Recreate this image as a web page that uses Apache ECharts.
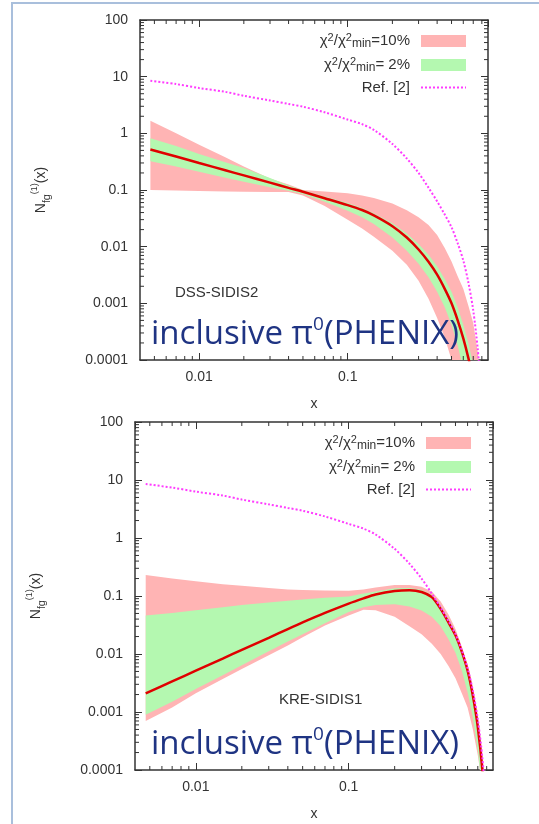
<!DOCTYPE html>
<html>
<head>
<meta charset="utf-8">
<title>gluon Sivers moments</title>
<script src="https://cdn.jsdelivr.net/npm/echarts@6/dist/echarts.min.js"></script>
<style>
  html, body { margin: 0; padding: 0; background: #fff; }
  #frame { position: absolute; left: 11px; top: 2px; width: 528px; height: 822px;
           border-left: 2px solid #a9bfdc; border-top: 2px solid #a9bfdc; }
  #chart { position: absolute; left: 0; top: 0; width: 539px; height: 824px; }
</style>
</head>
<body>
<div id="frame"></div>
<div id="chart"></div>
<script>
// x grid shared by every curve
var xs = [0.0047, 0.007, 0.01, 0.015, 0.02, 0.03, 0.04, 0.05, 0.07, 0.1, 0.125, 0.15, 0.2, 0.25, 0.3, 0.35, 0.4, 0.45, 0.5, 0.55, 0.6, 0.65, 0.7, 0.75, 0.8];

// Ref. [2] (same curve in both panels)
var refCurve = [8.5, 7.4, 6.3, 5.4, 4.6, 3.8, 3.3, 2.95, 2.35, 1.75, 1.45, 1.15, 0.65, 0.36, 0.2, 0.11, 0.063, 0.037, 0.022, 0.0115, 0.0057, 0.0023, 0.00075, 0.00016, 0.00002];

// top panel: DSS-SIDIS2
var dssCentral = [0.52, 0.39, 0.30, 0.223, 0.181, 0.135, 0.109, 0.093, 0.0716, 0.054, 0.0443, 0.0357, 0.023, 0.0145, 0.0089, 0.0054, 0.0032, 0.0018, 0.001, 0.0005, 0.00024, 0.000107, 0.000045, 0.000016, 0.000005];
var dss10Hi = [1.66, 1.0, 0.63, 0.38, 0.26, 0.16, 0.125, 0.1, 0.094, 0.088, 0.08, 0.072, 0.058, 0.044, 0.033, 0.024, 0.016, 0.0095, 0.0055, 0.003, 0.0018, 0.0009, 0.00045, 0.00014, 0.00003];
var dss10Lo = [0.1, 0.098, 0.096, 0.094, 0.093, 0.092, 0.092, 0.08, 0.052, 0.03, 0.021, 0.015, 0.0085, 0.0048, 0.0025, 0.0012, 0.00055, 0.00025, 0.0001, 0.00004, 0.00001, 0.000003, 0.000001, 0.0000003, 0.0000001];
var dss2Hi = [0.82, 0.6, 0.43, 0.31, 0.245, 0.163, 0.12, 0.099, 0.077, 0.059, 0.048, 0.039, 0.026, 0.017, 0.0112, 0.0072, 0.0045, 0.0027, 0.0016, 0.00085, 0.00042, 0.0002, 0.00008, 0.00003, 0.00001];
var dss2Lo = [0.32, 0.26, 0.21, 0.165, 0.14, 0.112, 0.097, 0.085, 0.062, 0.043, 0.033, 0.025, 0.0145, 0.0085, 0.005, 0.0029, 0.0016, 0.00085, 0.00042, 0.00018, 0.00007, 0.000025, 0.000008, 0.000002, 0.0000005];

// bottom panel: KRE-SIDIS1
var kreCentral = [0.0021, 0.00337, 0.00515, 0.00835, 0.0118, 0.019, 0.0269, 0.035, 0.051, 0.074, 0.091, 0.106, 0.1216, 0.126, 0.1175, 0.0955, 0.06, 0.035, 0.021, 0.011, 0.0052, 0.0019, 0.00055, 0.0001, 0.00001];
var kre10Hi = [0.23, 0.2, 0.18, 0.16, 0.15, 0.138, 0.13, 0.127, 0.124, 0.123, 0.13, 0.14, 0.155, 0.155, 0.145, 0.12, 0.08, 0.048, 0.027, 0.0135, 0.0065, 0.0027, 0.0009, 0.0002, 0.00003];
var kre10Lo = [0.0007, 0.0012, 0.0021, 0.0037, 0.0055, 0.0095, 0.014, 0.0195, 0.031, 0.046, 0.058, 0.057, 0.044, 0.03, 0.022, 0.015, 0.01, 0.0062, 0.0038, 0.0021, 0.0012, 0.0005, 0.00018, 0.00005, 0.00001];
var kre2Hi = [0.046, 0.051, 0.057, 0.064, 0.07, 0.077, 0.083, 0.087, 0.093, 0.098, 0.11, 0.12, 0.136, 0.138, 0.128, 0.104, 0.068, 0.041, 0.024, 0.0125, 0.006, 0.0024, 0.0008, 0.00017, 0.00002];
var kre2Lo = [0.0009, 0.0015, 0.0025, 0.0043, 0.0064, 0.0112, 0.0165, 0.022, 0.034, 0.053, 0.064, 0.07, 0.072, 0.066, 0.056, 0.044, 0.03, 0.018, 0.0105, 0.0052, 0.0022, 0.0008, 0.00022, 0.00004, 0.000005];

var X_MIN = 0.004, X_MAX = 0.88;
var Y_MIN = 0.0001, Y_MAX = 100;

// minor tick values (2..9 of each decade), gnuplot style
var xMinor = [], yMinor = [];
[0.001, 0.01, 0.1].forEach(function (d) {
  for (var k = 2; k <= 9; k++) { var v = +(k * d).toPrecision(2); if (v > X_MIN && v < X_MAX) xMinor.push(v); }
});
[0.0001, 0.001, 0.01, 0.1, 1, 10].forEach(function (d) {
  for (var k = 2; k <= 9; k++) yMinor.push(+(k * d).toPrecision(2));
});

var PINK = '#ffb4b4', GREEN = '#b4f8b0', RED = '#e00000', MAGENTA = '#ff3cff';
var FONT = 'Liberation Sans';
var AXIS_COLOR = '#333';

var legendText = {
  c10: '{t|χ}{sup|2}{t|/χ}{sup|2}{sub|min}{t|=10%}{g|}',
  c2: '{t|χ}{sup|2}{t|/χ}{sup|2}{sub|min}{t|= 2%}{g|}',
  ref: '{t|Ref. [2]}{g|}'
};

function fmtNum(v) {
  return String(Number(v.toPrecision(1)));
}

function xAxisPair(g) {
  var common = {
    type: 'log', logBase: 10, gridIndex: g, min: X_MIN, max: X_MAX,
    axisLine: { show: true, lineStyle: { color: AXIS_COLOR, width: 1.5 } },
    axisTick: { show: true, inside: true, length: 7, lineStyle: { color: AXIS_COLOR } },
    splitLine: { show: false }
  };
  return [
    Object.assign({}, common, {
      position: 'bottom',
      name: 'x', nameLocation: 'middle', nameGap: 37,
      nameTextStyle: { fontFamily: FONT, fontSize: 14, color: AXIS_COLOR },
      axisLabel: { show: true, margin: 10, fontFamily: FONT, fontSize: 14, color: AXIS_COLOR,
                   showMinLabel: false, showMaxLabel: false, formatter: fmtNum }
    }),
    Object.assign({}, common, { position: 'top', axisLabel: { show: false } })
  ];
}

function yAxisPair(g) {
  var common = {
    type: 'log', logBase: 10, gridIndex: g, min: Y_MIN, max: Y_MAX, splitNumber: 6,
    axisLine: { show: true, lineStyle: { color: AXIS_COLOR, width: 1.5 } },
    axisTick: { show: true, inside: true, length: 7, lineStyle: { color: AXIS_COLOR } },
    splitLine: { show: false }
  };
  return [
    Object.assign({}, common, {
      position: 'left',
      name: '{n|N}{sub|f}{sub2|g}{sup|(1)}{n|(x)}', nameLocation: 'middle', nameGap: 88, nameRotate: 90,
      nameTextStyle: {
        fontFamily: FONT, color: AXIS_COLOR,
        rich: {
          n: { fontFamily: FONT, fontSize: 14, color: AXIS_COLOR, lineHeight: 22 },
          sub: { fontFamily: FONT, fontSize: 10, color: AXIS_COLOR, verticalAlign: 'bottom', lineHeight: 10 },
          sub2: { fontFamily: FONT, fontSize: 11, color: AXIS_COLOR, verticalAlign: 'bottom', lineHeight: 6 },
          sup: { fontFamily: FONT, fontSize: 9, color: AXIS_COLOR, verticalAlign: 'top', lineHeight: 9 }
        }
      },
      axisLabel: { show: true, margin: 12, fontFamily: FONT, fontSize: 14, color: AXIS_COLOR, formatter: fmtNum }
    }),
    Object.assign({}, common, { position: 'right', axisLabel: { show: false } })
  ];
}

function band(name, color, xi, yi, lo, hi) {
  return {
    type: 'custom', name: name, xAxisIndex: xi, yAxisIndex: yi, clip: true,
    itemStyle: { color: color },
    encode: { x: 0, y: [1, 2] },
    data: xs.map(function (x, i) { return [x, lo[i], hi[i]]; }),
    renderItem: function (params, api) {
      if (params.dataIndex !== 0) return null;
      var up = [], dn = [];
      for (var i = 0; i < xs.length; i++) {
        up.push(api.coord([xs[i], hi[i]]));
        dn.push(api.coord([xs[i], lo[i]]));
      }
      return { type: 'polygon', shape: { points: up.concat(dn.reverse()) }, style: { fill: color } };
    }
  };
}

function curve(name, xi, yi, vals, style) {
  return {
    type: 'line', name: name, xAxisIndex: xi, yAxisIndex: yi, smooth: 0.3,
    showSymbol: false, symbol: 'none', clip: true,
    data: xs.map(function (x, i) { return [x, vals[i]]; }),
    lineStyle: style, itemStyle: { color: style.color }
  };
}

// minor ticks on all four sides, placed through the axes' own scales
function minorTicks(xi, yi) {
  function seg(x1, y1, x2, y2) {
    return { type: 'line', shape: { x1: x1, y1: y1, x2: x2, y2: y2 }, style: { stroke: AXIS_COLOR, lineWidth: 1 } };
  }
  return {
    type: 'custom', name: 'minor', xAxisIndex: xi, yAxisIndex: yi, silent: true, clip: false, z: 5,
    data: [[X_MIN, Y_MIN]],
    renderItem: function (params, api) {
      var lo = api.coord([X_MIN, Y_MIN]), hi = api.coord([X_MAX, Y_MAX]);
      var kids = [];
      xMinor.forEach(function (v) {
        var px = api.coord([v, Y_MIN])[0];
        kids.push(seg(px, lo[1], px, lo[1] - 4));
        kids.push(seg(px, hi[1], px, hi[1] + 4));
      });
      yMinor.forEach(function (v) {
        var py = api.coord([X_MIN, v])[1];
        kids.push(seg(lo[0], py, lo[0] + 4, py));
        kids.push(seg(hi[0], py, hi[0] - 4, py));
      });
      return { type: 'group', children: kids };
    }
  };
}

function legendFor(top, right) {
  return {
    orient: 'vertical', align: 'right', top: top, right: right,
    itemWidth: 45, itemHeight: 12, itemGap: 6,
    selectedMode: false,
    data: [{ name: 'c10', icon: 'rect' }, { name: 'c2', icon: 'rect' }, { name: 'ref', itemStyle: { opacity: 0 } }],
    formatter: function (n) { return legendText[n]; },
    textStyle: {
      fontFamily: FONT, fontSize: 15, color: AXIS_COLOR,
      rich: {
        t: { fontFamily: FONT, fontSize: 15, color: AXIS_COLOR, lineHeight: 18 },
        sup: { fontFamily: FONT, fontSize: 11, color: AXIS_COLOR, verticalAlign: 'top', lineHeight: 10 },
        sub: { fontFamily: FONT, fontSize: 12, color: AXIS_COLOR, verticalAlign: 'bottom', lineHeight: 11 },
        g: { width: 6 }
      }
    }
  };
}

function phenixText(left, top) {
  return {
    type: 'text', left: left, top: top, z: 10,
    style: {
      text: '{m|inclusive π}{s|0}{m|(PHENIX)}',
      rich: {
        m: { fontFamily: 'Open Sans', fontSize: 33, fill: '#1f3483', lineHeight: 39 },
        s: { fontFamily: 'Open Sans', fontSize: 19, fill: '#1f3483', verticalAlign: 'top', lineHeight: 25 }
      }
    }
  };
}

var myChart = echarts.init(document.getElementById('chart'));

var option = {
  animation: false,
  grid: [
    { left: 140, right: 51, top: 20, height: 340 },
    { left: 135, right: 46, top: 422, height: 348 }
  ],
  xAxis: xAxisPair(0).concat(xAxisPair(1)),
  yAxis: yAxisPair(0).concat(yAxisPair(1)),
  legend: [legendFor(27, 67), legendFor(429, 62)],
  series: [
    band('c10', PINK, 0, 0, dss10Lo, dss10Hi),
    band('c2', GREEN, 0, 0, dss2Lo, dss2Hi),
    curve('fit', 0, 0, dssCentral, { color: RED, width: 2.5 }),
    curve('ref', 0, 0, refCurve, { color: MAGENTA, width: 2, type: 'dotted' }),
    minorTicks(0, 0),
    band('c10', PINK, 2, 2, kre10Lo, kre10Hi),
    band('c2', GREEN, 2, 2, kre2Lo, kre2Hi),
    curve('fit', 2, 2, kreCentral, { color: RED, width: 2.5 }),
    curve('ref', 2, 2, refCurve, { color: MAGENTA, width: 2, type: 'dotted' }),
    minorTicks(2, 2)
  ],
  graphic: [
    { type: 'text', left: 175, top: 285, style: { text: 'DSS-SIDIS2', fontFamily: FONT, fontSize: 15, fill: AXIS_COLOR } },
    { type: 'text', left: 279, top: 692, style: { text: 'KRE-SIDIS1', fontFamily: FONT, fontSize: 15, fill: AXIS_COLOR } },
    phenixText(151, 315),
    phenixText(151, 725)
  ]
};

myChart.setOption(option);
</script>
</body>
</html>
